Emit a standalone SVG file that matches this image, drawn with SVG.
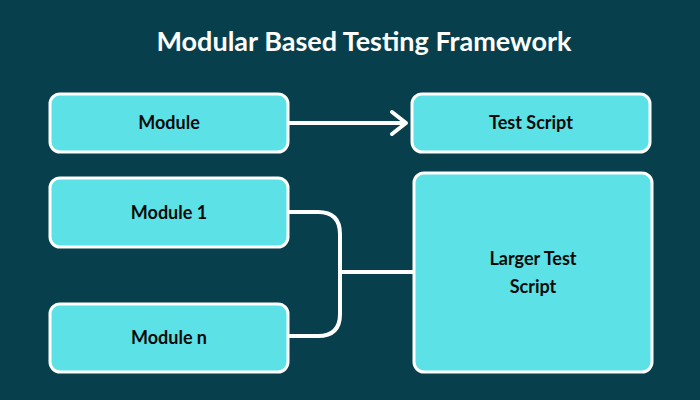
<svg xmlns="http://www.w3.org/2000/svg" width="700" height="400" viewBox="0 0 700 400">
<style>
.n{fill:#5ce1e6;stroke:#fff;stroke-width:3}
.t{font-family:Lato,"Open Sans",sans-serif;font-weight:bold;font-size:18px;fill:#0a0a0a;text-anchor:middle}
.c{fill:none;stroke:#fff;stroke-width:4;stroke-linecap:round;stroke-linejoin:round}
</style>
<rect width="700" height="400" fill="#073f4c"/>
<text x="364" y="51" font-family="Lato,'Open Sans',sans-serif" font-weight="bold" font-size="27" fill="#fff" text-anchor="middle">Modular Based Testing Framework</text>
<g id="connectors">
<path class="c" d="M290 123H404"/>
<path class="c" d="M392 112L406 123L392 134"/>
<path class="c" d="M290 212H318Q340 212 340 234V314Q340 336 318 336H290"/>
<path class="c" d="M340 272H413"/>
</g>
<g id="module"><rect class="n" x="50" y="94" width="238" height="58" rx="10"/><text class="t" x="169" y="129">Module</text></g>
<g id="testscript"><rect class="n" x="412" y="94" width="238" height="58" rx="10"/><text class="t" x="531" y="129">Test Script</text></g>
<g id="module1"><rect class="n" x="50" y="178" width="238" height="69" rx="10"/><text class="t" x="169" y="219">Module 1</text></g>
<g id="modulen"><rect class="n" x="50" y="304" width="238" height="68" rx="10"/><text class="t" x="169" y="344">Module n</text></g>
<g id="larger"><rect class="n" x="414" y="173" width="238" height="199" rx="10"/><text class="t" x="533" y="265">Larger Test</text><text class="t" x="533" y="293">Script</text></g>
</svg>
